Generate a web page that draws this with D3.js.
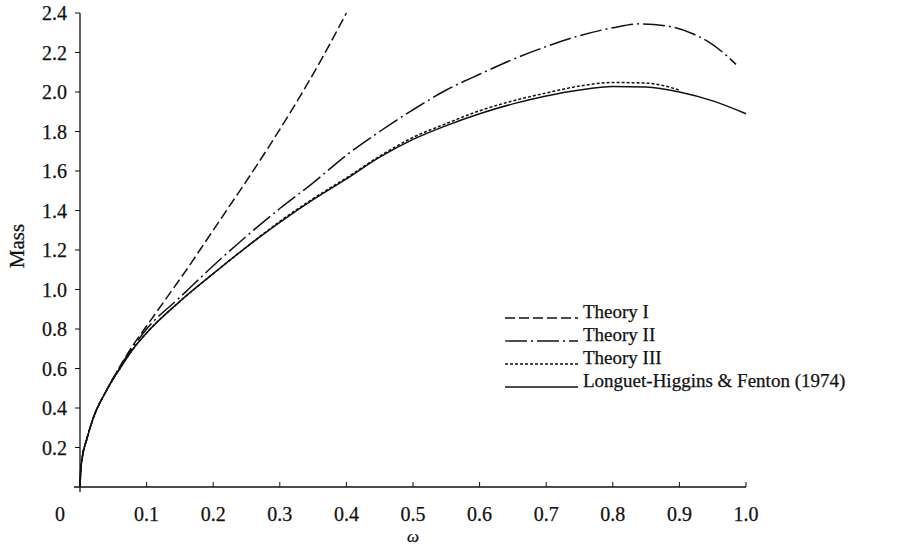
<!DOCTYPE html>
<html lang="en">
<head>
    <meta charset="UTF-8">
    <script src="https://d3js.org/d3.v7.min.js"></script>
    <style>
        body { margin: 0; background: #fff; font-family: "Liberation Serif", "DejaVu Serif", serif; }
        svg text { font-family: "Liberation Serif", serif; fill: #111; stroke: #111; stroke-width: 0.25px; }
    </style>
</head>
<body>
<svg id="chart" width="898" height="546"></svg>
<script>
    // values
    const omegaI = [0, 0.001, 0.003, 0.01, 0.02, 0.04, 0.06, 0.08, 0.1, 0.12, 0.14, 0.16, 0.18, 0.2, 0.222, 0.25, 0.282, 0.32, 0.36, 0.4];
    const massI  = [0, 0.08, 0.14, 0.24, 0.35, 0.49, 0.61, 0.72, 0.815, 0.91, 1.005, 1.1, 1.2, 1.3, 1.41, 1.55, 1.715, 1.92, 2.15, 2.40];

    const omegaII = [0, 0.001, 0.003, 0.01, 0.02, 0.04, 0.06, 0.08, 0.1, 0.15, 0.2, 0.25, 0.3, 0.35, 0.4, 0.45, 0.5, 0.55, 0.6, 0.65, 0.7, 0.75, 0.8, 0.84, 0.88, 0.92, 0.95, 0.985];
    const massII  = [0, 0.08, 0.14, 0.24, 0.35, 0.49, 0.61, 0.71, 0.8, 0.96, 1.12, 1.27, 1.41, 1.54, 1.68, 1.8, 1.91, 2.01, 2.09, 2.165, 2.23, 2.285, 2.325, 2.345, 2.335, 2.295, 2.24, 2.14];

    const omegaIII = [0, 0.001, 0.003, 0.01, 0.02, 0.04, 0.06, 0.08, 0.1, 0.15, 0.2, 0.25, 0.3, 0.35, 0.4, 0.45, 0.5, 0.55, 0.6, 0.65, 0.7, 0.75, 0.8, 0.85, 0.9];
    const massIII  = [0, 0.08, 0.14, 0.24, 0.35, 0.49, 0.6, 0.7, 0.78, 0.94, 1.08, 1.215, 1.345, 1.46, 1.565, 1.675, 1.77, 1.84, 1.905, 1.955, 1.995, 2.03, 2.048, 2.045, 2.01];

    const omegaLH = [0, 0.001, 0.003, 0.01, 0.02, 0.04, 0.06, 0.08, 0.1, 0.15, 0.2, 0.25, 0.3, 0.35, 0.4, 0.45, 0.5, 0.55, 0.6, 0.65, 0.7, 0.75, 0.8, 0.85, 0.9, 0.95, 1.0];
    const massLH  = [0, 0.08, 0.14, 0.24, 0.35, 0.49, 0.6, 0.7, 0.78, 0.94, 1.08, 1.215, 1.34, 1.455, 1.56, 1.67, 1.76, 1.83, 1.89, 1.94, 1.98, 2.01, 2.028, 2.025, 2.0, 1.955, 1.89];

    const seriesNames = ["Theory I", "Theory II", "Theory III", "Longuet-Higgins & Fenton (1974)"];
    const xTicks = [0.1, 0.2, 0.3, 0.4, 0.5, 0.6, 0.7, 0.8, 0.9, 1.0];
    const yTicks = [0.2, 0.4, 0.6, 0.8, 1.0, 1.2, 1.4, 1.6, 1.8, 2.0, 2.2, 2.4];

    const series = [
        { name: seriesNames[0], x: omegaI, y: massI, dash: "10,4" },
        { name: seriesNames[1], x: omegaII, y: massII, dash: "22,4,2,4" },
        { name: seriesNames[2], x: omegaIII, y: massIII, dash: "3,2" },
        { name: seriesNames[3], x: omegaLH, y: massLH, dash: null }
    ];

    const svg = d3.select("#chart");
    const x = d3.scaleLinear().domain([0, 1]).range([80, 746]);
    const y = d3.scaleLinear().domain([0, 2.4]).range([487, 13]);

    // x axis
    svg.append("line")
        .attr("x1", 74).attr("x2", x(1)).attr("y1", y(0)).attr("y2", y(0))
        .attr("stroke", "#111").attr("stroke-width", 1.3);
    svg.selectAll(".xtick").data(xTicks).enter().append("line")
        .attr("x1", d => x(d)).attr("x2", d => x(d))
        .attr("y1", y(0)).attr("y2", y(0) - 5)
        .attr("stroke", "#111").attr("stroke-width", 1);
    svg.selectAll(".xlab").data([0].concat(xTicks)).enter().append("text")
        .attr("x", d => d === 0 ? 60 : x(d))
        .attr("y", 521)
        .attr("text-anchor", "middle")
        .style("font-size", "20px")
        .text(d => d === 0 ? "0" : d3.format(".1f")(d));

    // y axis
    svg.append("line")
        .attr("x1", x(0)).attr("x2", x(0)).attr("y1", y(0) + 5).attr("y2", y(2.4))
        .attr("stroke", "#111").attr("stroke-width", 1.3);
    svg.selectAll(".ytick").data(yTicks).enter().append("line")
        .attr("x1", x(0) - 5).attr("x2", x(0))
        .attr("y1", d => y(d)).attr("y2", d => y(d))
        .attr("stroke", "#111").attr("stroke-width", 1);
    svg.selectAll(".ylab").data(yTicks).enter().append("text")
        .attr("x", 67)
        .attr("y", d => y(d))
        .attr("dy", "0.35em")
        .attr("text-anchor", "end")
        .style("font-size", "20px")
        .text(d => d3.format(".1f")(d));

    svg.append("text")
        .attr("transform", "translate(24,246) rotate(-90)")
        .attr("text-anchor", "middle")
        .style("font-size", "21px")
        .text("Mass");

    svg.append("text")
        .attr("x", 413).attr("y", 542)
        .attr("text-anchor", "middle")
        .style("font-size", "17px")
        .style("font-style", "italic")
        .text("ω");

    const line = d3.line()
        .x(d => x(d[0]))
        .y(d => y(d[1]))
        .curve(d3.curveMonotoneX);

    series.forEach(s => {
        svg.append("path")
            .datum(s.x.map((v, i) => [v, s.y[i]]))
            .attr("d", line)
            .attr("fill", "none")
            .attr("stroke", "#111")
            .attr("stroke-width", 1.5)
            .attr("stroke-dasharray", s.dash);
    });

    // legend
    const legendY = [318, 341, 364, 387];
    series.forEach((s, i) => {
        svg.append("line")
            .attr("x1", 505).attr("x2", 578)
            .attr("y1", legendY[i]).attr("y2", legendY[i])
            .attr("stroke", "#111").attr("stroke-width", 1.3)
            .attr("stroke-dasharray", s.dash);
        svg.append("text")
            .attr("x", 583).attr("y", legendY[i])
            .style("font-size", "19px")
            .text(s.name);
    });
</script>
</body>
</html>
